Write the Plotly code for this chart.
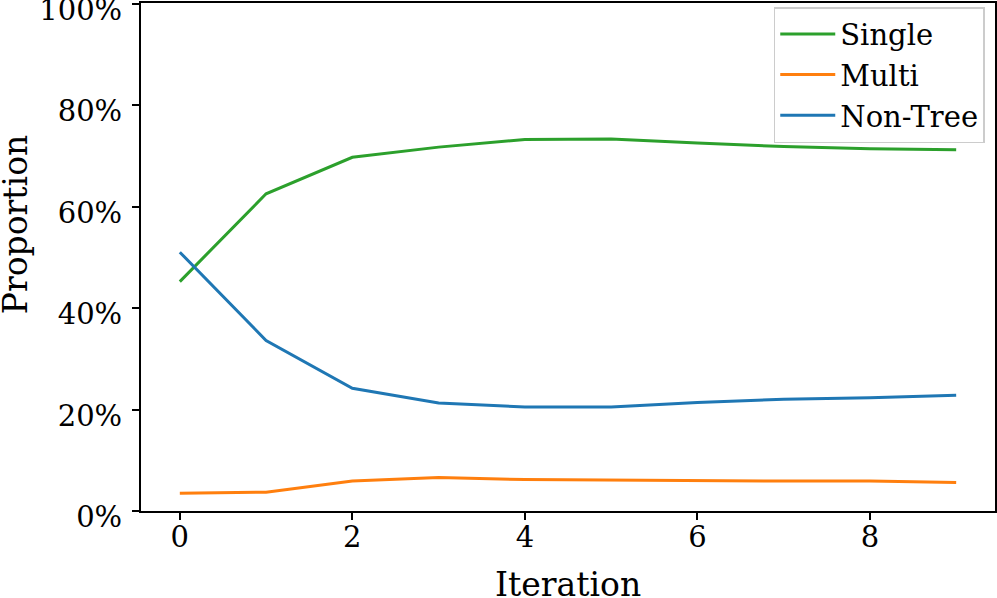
"""Proportion of tree types per iteration."""
import plotly.graph_objects as go

iterations = [0, 1, 2, 3, 4, 5, 6, 7, 8, 9]
single = [0.452, 0.625, 0.697, 0.717, 0.732, 0.733, 0.725, 0.718, 0.714, 0.712]
multi = [0.035, 0.037, 0.059, 0.066, 0.062, 0.061, 0.059, 0.059, 0.059, 0.056]
non_tree = [0.510, 0.336, 0.242, 0.213, 0.205, 0.205, 0.214, 0.220, 0.223, 0.228]

series = [
    ("Single", single, "#2ca02c"),
    ("Multi", multi, "#ff7f0e"),
    ("Non-Tree", non_tree, "#1f77b4"),
]

FONT = "DejaVu Serif"

fig = go.Figure()
for name, values, color in series:
    fig.add_trace(go.Scatter(
        x=iterations,
        y=values,
        mode="lines",
        name=name,
        line=dict(color=color, width=3),
    ))

axis_common = dict(
    showline=True,
    linecolor="black",
    linewidth=2,
    mirror=True,
    showgrid=False,
    zeroline=False,
    automargin=False,
    ticks="outside",
    ticklen=7,
    tickwidth=1.5,
    tickcolor="black",
    ticklabeloverflow="allow",
    tickfont=dict(family=FONT, size=29, color="black"),
)

fig.update_xaxes(
    range=[-0.45, 9.45],
    tickmode="array",
    tickvals=[0, 2, 4, 6, 8],
    ticklabelstandoff=-8,
    **axis_common,
)
fig.update_yaxes(
    range=[0, 1.001],
    tickmode="array",
    tickvals=[0, 0.2, 0.4, 0.6, 0.8, 1.0],
    ticktext=["0%", "20%", "40%", "60%", "80%", "100%"],
    ticklabelstandoff=4,
    ticklabelshift=6,
    **axis_common,
)

# axis titles as annotations so they land where the original has them
title_font = dict(family=FONT, size=33, color="black")
fig.add_annotation(
    text="Iteration",
    xref="paper", yref="paper",
    x=0.5, y=-0.144,
    xanchor="center", yanchor="middle",
    showarrow=False,
    font=title_font,
)
fig.add_annotation(
    text="Proportion",
    xref="paper", yref="paper",
    x=-0.146, y=0.565,
    xanchor="center", yanchor="middle",
    textangle=-90,
    showarrow=False,
    font=title_font,
)

fig.update_layout(
    width=997,
    height=598,
    margin=dict(l=141, r=2, t=3, b=87),
    paper_bgcolor="white",
    plot_bgcolor="white",
    showlegend=True,
    legend=dict(
        x=0.988, y=0.992,
        xanchor="right", yanchor="top",
        bgcolor="rgba(255,255,255,0.8)",
        bordercolor="#cccccc",
        borderwidth=1.5,
        font=dict(family=FONT, size=29, color="black"),
        tracegroupgap=0,
        itemwidth=55,
    ),
)

# drop the default page margin so the figure sits at the window's corner
fig.write_html(
    "out.html",
    config={"displayModeBar": False},
    post_script="document.body.style.margin='0px';",
)
